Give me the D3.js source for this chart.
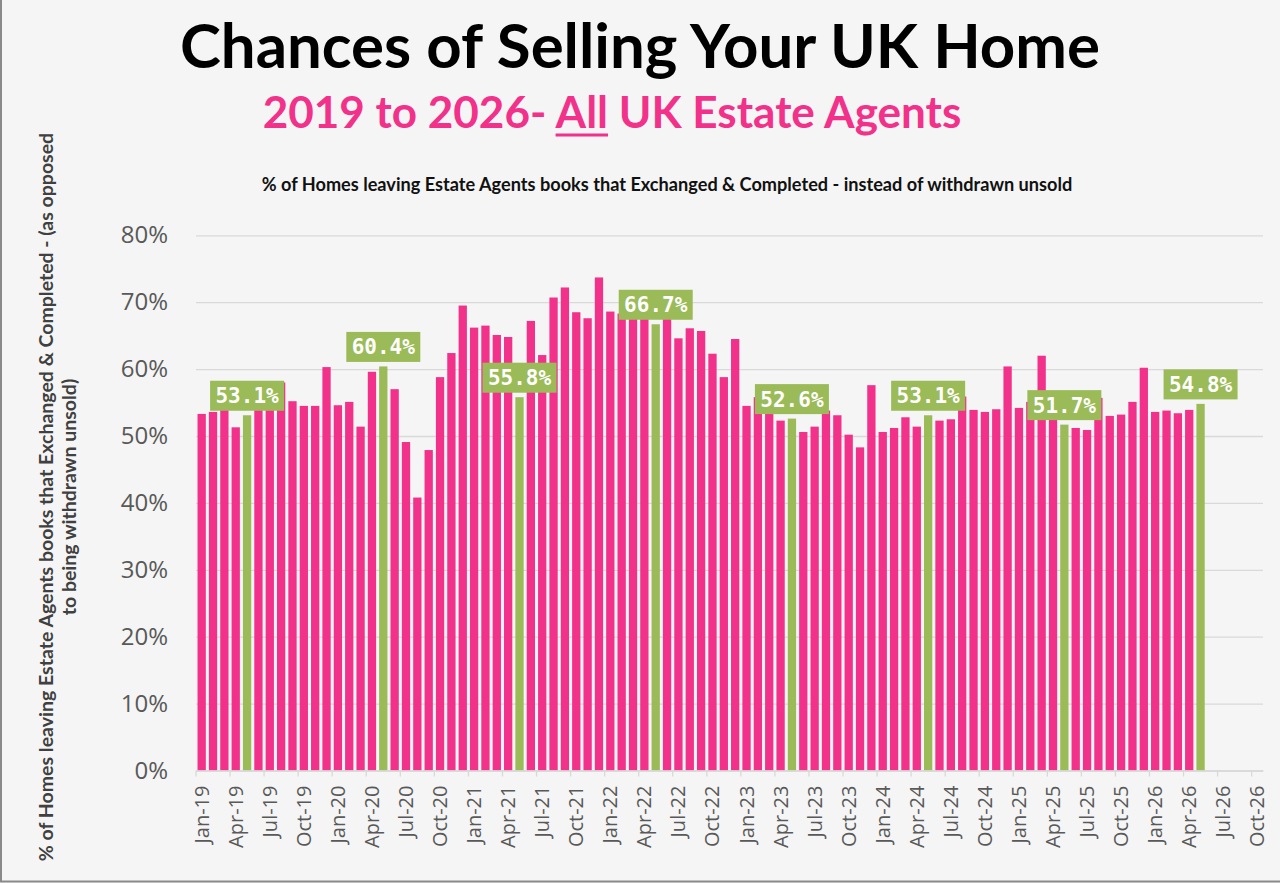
<!DOCTYPE html>
<html>
<head>
<meta charset="utf-8">
<script src="https://cdn.jsdelivr.net/npm/d3@7"></script>
<style>
  body { margin: 0; background: #f4f5f4; }
  svg { display: block; }
</style>
</head>
<body>
<div class="chart"></div>
<script>
// data
var monthNames = ["Jan","Feb","Mar","Apr","May","Jun","Jul","Aug","Sep","Oct","Nov","Dec"];
var years = ["19","20","21","22","23","24","25","26"];
// axis runs Jan-19 .. Oct-26
var categories = years.flatMap(function(y){ return monthNames.map(function(m){ return m + "-" + y; }); }).slice(0, 94);

var tickLabels = ["Jan-19","Apr-19","Jul-19","Oct-19","Jan-20","Apr-20","Jul-20","Oct-20",
  "Jan-21","Apr-21","Jul-21","Oct-21","Jan-22","Apr-22","Jul-22","Oct-22",
  "Jan-23","Apr-23","Jul-23","Oct-23","Jan-24","Apr-24","Jul-24","Oct-24",
  "Jan-25","Apr-25","Jul-25","Oct-25","Jan-26","Apr-26","Jul-26","Oct-26"];

// % of homes sold, Jan-19 .. May-26
var values = [
  53.3, 53.6, 54.0, 51.3, 53.1, 54.5, 55.0, 58.0, 55.2, 54.5, 54.5, 60.3,
  54.6, 55.1, 51.4, 59.6, 60.4, 57.0, 49.1, 40.8, 47.9, 58.8, 62.4, 69.5,
  66.2, 66.5, 65.1, 64.8, 55.8, 67.2, 62.1, 70.7, 72.2, 68.5, 67.6, 73.7,
  68.6, 68.3, 68.5, 68.2, 66.7, 68.0, 64.6, 66.1, 65.7, 62.3, 58.8, 64.5,
  54.5, 55.8, 53.9, 52.3, 52.6, 50.6, 51.4, 53.8, 53.1, 50.2, 48.3, 57.6,
  50.6, 51.2, 52.8, 51.4, 53.1, 52.3, 52.5, 55.9, 53.9, 53.6, 54.0, 60.4,
  54.2, 55.1, 62.0, 53.0, 51.7, 51.2, 50.9, 55.7, 53.0, 53.2, 55.1, 60.2,
  53.6, 53.8, 53.4, 53.9, 54.8
];
var highlightMonth = "May";
var yTicks = [0, 10, 20, 30, 40, 50, 60, 70, 80];

var pink = "#f2318b", green = "#9bbb59";

var W = 1280, H = 883;
var svg = d3.select(".chart").append("svg")
    .attr("width", W)
    .attr("height", H);

svg.append("rect")
    .attr("width", W).attr("height", H)
    .attr("fill", "#f4f5f4");

// frame (left + bottom visible)
svg.append("rect")
    .attr("x", 1).attr("y", -5)
    .attr("width", W + 20).attr("height", 886.5)
    .attr("fill", "none")
    .attr("stroke", "#8a8a8a")
    .attr("stroke-width", 2);

function fitWidth(sel, target) {
  var size = +sel.attr("font-size");
  var w = sel.node().getComputedTextLength();
  sel.attr("font-size", size * target / w);
}

// titles
var title = svg.append("text")
    .attr("x", 640).attr("y", 68)
    .attr("text-anchor", "middle")
    .attr("font-family", "Lato")
    .attr("font-weight", "bold")
    .attr("font-size", 56)
    .attr("fill", "#000")
    .text("Chances of Selling Your UK Home");
fitWidth(title, 920);

var sub = svg.append("text")
    .attr("x", 612).attr("y", 128)
    .attr("text-anchor", "middle")
    .attr("font-family", "Lato")
    .attr("font-weight", "bold")
    .attr("font-size", 38)
    .attr("fill", pink);
sub.append("tspan").text("2019 to 2026- ");
sub.append("tspan").attr("class", "all").text("All");
sub.append("tspan").text(" UK Estate Agents");
fitWidth(sub, 699);
var subNode = sub.node();
var allStart = subNode.getStartPositionOfChar(14).x;
var allEnd = subNode.getEndPositionOfChar(16).x;
svg.append("line")
    .attr("x1", allStart).attr("x2", allEnd)
    .attr("y1", 135).attr("y2", 135)
    .attr("stroke", pink)
    .attr("stroke-width", 3);

var note = svg.append("text")
    .attr("x", 667).attr("y", 191)
    .attr("text-anchor", "middle")
    .attr("font-family", "Lato")
    .attr("font-weight", "bold")
    .attr("font-size", 15)
    .attr("fill", "#111")
    .text("% of Homes leaving Estate Agents books that Exchanged & Completed - instead of withdrawn unsold");
fitWidth(note, 811);

// scales
var x = d3.scaleBand()
    .domain(categories)
    .range([196, 1263])
    .paddingInner(0.27)
    .paddingOuter(0.135);

var y = d3.scaleLinear()
    .domain([0, 80])
    .range([770.5, 235.3]);

// gridlines + y labels
var yAxis = svg.append("g")
    .attr("transform", "translate(196,0)")
    .call(d3.axisLeft(y)
      .tickValues(yTicks)
      .tickSize(-(1263 - 196))
      .tickPadding(28)
      .tickFormat(function(d){ return d + "%"; }));
yAxis.select(".domain").remove();
yAxis.selectAll(".tick line")
    .attr("stroke", "#d9d9d9")
    .attr("stroke-width", 1.3);
yAxis.selectAll(".tick text")
    .attr("font-family", "Open Sans")
    .attr("font-size", 24)
    .attr("fill", "#595959");

// bars
svg.append("g").selectAll("rect")
    .data(values)
    .enter().append("rect")
    .attr("x", function(d, i){ return x(categories[i]); })
    .attr("width", x.bandwidth())
    .attr("y", function(d){ return y(d); })
    .attr("height", function(d){ return y(0) - y(d); })
    .attr("fill", function(d, i){ return categories[i].indexOf(highlightMonth) === 0 ? green : pink; });

// x axis
var xAxis = svg.append("g")
    .attr("transform", "translate(0," + y(0) + ")")
    .call(d3.axisBottom(x)
      .tickValues(tickLabels)
      .tickSize(0)
      .tickPadding(0));
xAxis.select(".domain")
    .attr("stroke", "#d9d9d9")
    .attr("stroke-width", 1.5);
xAxis.selectAll(".tick text")
    .attr("font-family", "Open Sans")
    .attr("font-size", 20)
    .attr("fill", "#595959")
    .attr("text-anchor", "end")
    .attr("transform", "rotate(-90)")
    .attr("x", -15)
    .attr("y", 0)
    .attr("dy", "0.35em");

var half = x.step() * x.paddingInner() / 2;
svg.append("g").selectAll("line")
    .data(tickLabels)
    .enter().append("line")
    .attr("x1", function(d){ return x(d) - half; })
    .attr("x2", function(d){ return x(d) - half; })
    .attr("y1", y(0))
    .attr("y2", y(0) + 6)
    .attr("stroke", "#d9d9d9")
    .attr("stroke-width", 1.3);

// labels on the May bars
var labelled = values.map(function(v, i){ return {v: v, c: categories[i]}; })
    .filter(function(d){ return d.c.indexOf(highlightMonth) === 0; });

var lab = svg.append("g").selectAll("g")
    .data(labelled)
    .enter().append("g")
    .attr("transform", function(d){
      return "translate(" + (x(d.c) + x.bandwidth() / 2) + "," + (y(d.v) - 4.5) + ")";
    });
lab.append("rect")
    .attr("x", -37).attr("y", -30)
    .attr("width", 74).attr("height", 30)
    .attr("fill", green);
lab.append("text")
    .attr("y", -7.5)
    .attr("text-anchor", "middle")
    .attr("font-family", "DejaVu Sans Mono")
    .attr("font-weight", "bold")
    .attr("font-size", 21)
    .attr("fill", "#fff")
    .text(function(d){ return d.v.toFixed(1) + "%"; });

// y axis title
var yt = svg.append("text")
    .attr("transform", "translate(46,497) rotate(-90)")
    .attr("text-anchor", "middle")
    .attr("font-family", "Lato")
    .attr("font-weight", "bold")
    .attr("font-size", 16)
    .attr("fill", "#404040");
yt.append("tspan")
    .attr("x", 0).attr("dy", "0.35em")
    .text("% of Homes leaving Estate Agents books that Exchanged & Completed - (as opposed");
fitWidth(yt, 729);
yt.append("tspan")
    .attr("x", 0).attr("dy", "1.2em")
    .text("to being withdrawn unsold)");
</script>
</body>
</html>
